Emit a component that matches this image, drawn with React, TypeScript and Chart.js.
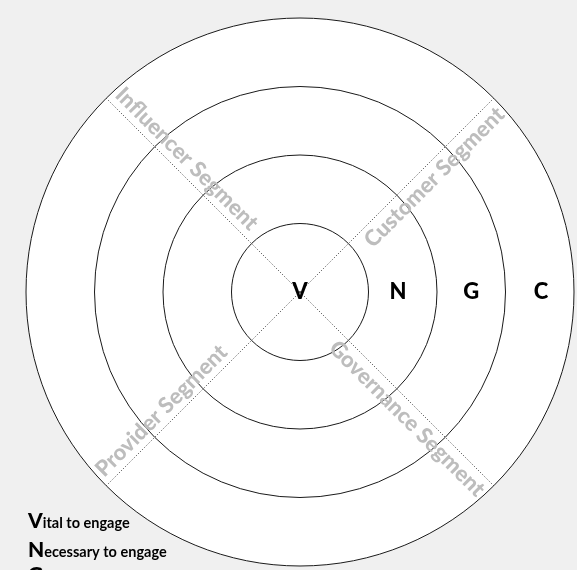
import { useEffect, useRef } from 'react';
import { Chart, registerables } from 'chart.js';

Chart.register(...registerables);

// Segments in clockwise order starting at the upper-right diagonal
const segments = ['Customer Segment', 'Governance Segment', 'Provider Segment', 'Influencer Segment'];
// Ring boundaries (concentric circles)
const ringValues = [1, 2, 3, 4];
// Ring letters and the radial value at which each sits (to the right of centre)
const ringLetters = ['V', 'N', 'G', 'C'];
const ringLetterValues = [0, 1.43, 2.5, 3.52];
// Legend lines: bold initial + rest of the phrase
const legendInitials = ['V', 'N', 'G'];
const legendRest = ['ital to engage', 'ecessary to engage', 'ood to engage'];

const FONT = 'Lato, "Open Sans", "DejaVu Sans", sans-serif';

const overlayPlugin = {
  id: 'overlay',
  afterDraw(chart: any) {
    const s = chart.scales.r;
    const ctx = chart.ctx;
    ctx.save();

    // Ring letters
    ctx.fillStyle = '#000';
    ctx.font = `900 22px ${FONT}`;
    ctx.textAlign = 'center';
    ctx.textBaseline = 'middle';
    ringLetters.forEach((letter, i) => {
      const d = s.getDistanceFromCenterForValue(ringLetterValues[i]);
      ctx.fillText(letter, s.xCenter + d, s.yCenter);
    });

    // Segment labels along the diagonals
    ctx.fillStyle = '#bdbdbd';
    ctx.font = `900 22px ${FONT}`;
    ctx.textBaseline = 'middle';
    const outer = s.getDistanceFromCenterForValue(s.max) - 4;
    const perp = 14;
    segments.forEach((label, i) => {
      const a = s.getIndexAngle(i) - Math.PI / 2;
      const p = s.getPointPosition(i, outer);
      const ox = perp * Math.cos(a + Math.PI / 2);
      const oy = perp * Math.sin(a + Math.PI / 2);
      const right = Math.cos(a) > 0;
      ctx.save();
      ctx.translate(p.x + ox, p.y + oy);
      ctx.rotate(right ? a : a + Math.PI);
      ctx.textAlign = right ? 'right' : 'left';
      ctx.fillText(label, 0, 0);
      ctx.restore();
    });

    // Legend at bottom-left
    ctx.fillStyle = '#000';
    ctx.textAlign = 'left';
    ctx.textBaseline = 'alphabetic';
    const baselines = [528, 557, 582];
    legendInitials.forEach((ini, i) => {
      ctx.font = `900 21px ${FONT}`;
      ctx.fillText(ini, 28, baselines[i]);
      const w = ctx.measureText(ini).width;
      ctx.font = `bold 14.5px ${FONT}`;
      ctx.fillText(legendRest[i], 28 + w, baselines[i]);
    });

    ctx.restore();
  },
};

export default function App() {
  const ref = useRef<HTMLCanvasElement>(null);

  useEffect(() => {
    if (!ref.current) return;
    const chart = new Chart(ref.current, {
      type: 'radar',
      data: {
        labels: segments,
        datasets: [],
      },
      options: {
        responsive: false,
        animation: false,
        layout: { padding: { left: 26, top: 18, right: 3, bottom: 4 } },
        plugins: {
          legend: { display: false },
          tooltip: { enabled: false },
        },
        scales: {
          r: {
            min: 0,
            max: 4,
            startAngle: 45,
            backgroundColor: '#ffffff',
            grid: { circular: true, color: '#1a1a1a', lineWidth: 1 },
            angleLines: { display: true, color: '#333333', lineWidth: 1, borderDash: [1, 2] },
            ticks: { display: false, stepSize: 1 },
            pointLabels: { display: false },
            afterBuildTicks: (scale: any) => {
              scale.ticks = [0, ...ringValues].map((v) => ({ value: v }));
            },
          },
        },
      },
      plugins: [overlayPlugin],
    } as any);
    return () => chart.destroy();
  }, []);

  return (
    <div
      style={{
        position: 'fixed',
        left: 0,
        top: 0,
        width: 577,
        height: 570,
        background: '#f0f0f0',
        overflow: 'hidden',
      }}
    >
      <canvas ref={ref} width={577} height={570} style={{ display: 'block' }} />
    </div>
  );
}
